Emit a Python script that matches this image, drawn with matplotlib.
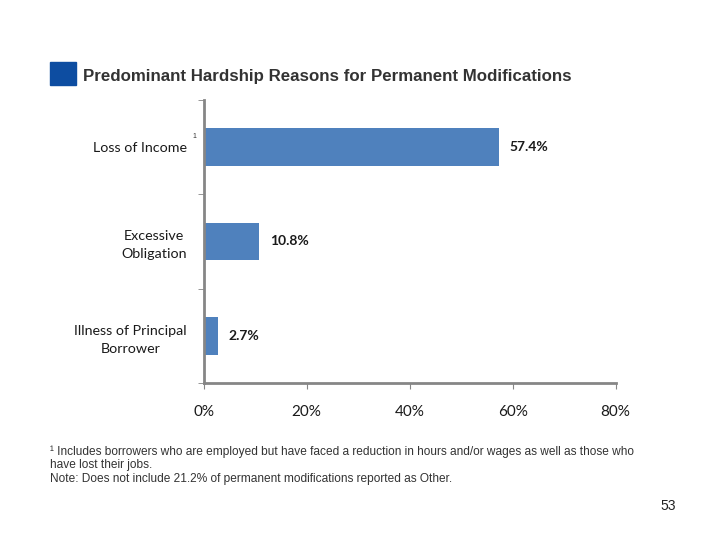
import matplotlib.pyplot as plt
from matplotlib.patches import Rectangle

categories = ["Loss of Income", "Excessive\nObligation", "Illness of Principal\nBorrower"]
values = [57.4, 10.8, 2.7]
xticks = [0, 20, 40, 60, 80]
xtick_labels = ["0%", "20%", "40%", "60%", "80%"]

bar_color = "#4F81BD"
axis_color = "#868686"
label_font = ["Lato", "DejaVu Sans"]

fig = plt.figure(figsize=(7.2, 5.4), dpi=100)
ax = fig.add_axes([0.283, 0.291, 0.572, 0.524])

pos = list(range(len(categories)))
ax.barh(pos, values, height=0.4, color=bar_color)
ax.set_ylim(len(categories) - 0.5, -0.5)
ax.set_xlim(0, 80)

for p, v in zip(pos, values):
    ax.text(v + 2, p, f"{v}%", va="center", ha="left", fontsize=10,
            fontweight="bold", family=label_font, color="#1a1a1a")

ax.set_yticks(pos)
ax.set_yticklabels(categories, fontsize=10.3, family=label_font, ha="right",
                   multialignment="center", linespacing=1.6, color="#1a1a1a")
ax.tick_params(axis="y", length=0, pad=12)
ax.set_yticks([-0.5, 0.5, 1.5, 2.5], minor=True)
ax.tick_params(axis="y", which="minor", length=4, color=axis_color)

ax.set_xticks(xticks)
ax.set_xticklabels(xtick_labels, fontsize=11, family=label_font, color="#1a1a1a")
ax.tick_params(axis="x", length=4, color=axis_color, pad=12)

for s in ["top", "right"]:
    ax.spines[s].set_visible(False)
for s in ["left", "bottom"]:
    ax.spines[s].set_color(axis_color)
    ax.spines[s].set_linewidth(2)

# superscript after "Loss of Income"
fig.text(192 / 720, 1 - 138 / 540, "1", fontsize=5, family="Liberation Sans",
         color="#333333")

# title with blue square
fig.patches.append(Rectangle((50 / 720, 1 - 85 / 540), 26 / 720, 23 / 540,
                             transform=fig.transFigure, color="#0D4DA1"))
fig.text(83 / 720, 1 - 76 / 540, "Predominant Hardship Reasons for Permanent Modifications",
         fontsize=12.2, fontweight="bold", family="Liberation Sans",
         color="#333333", va="center")

foot = ("\u00b9 Includes borrowers who are employed but have faced a reduction in hours and/or wages as well as those who\n"
        "have lost their jobs.\n"
        "Note: Does not include 21.2% of permanent modifications reported as Other.")
fig.text(50 / 720, 1 - 445 / 540, foot, fontsize=8.6, family="Liberation Sans",
         color="#333333", va="top", linespacing=1.2)

fig.text(668 / 720, 1 - 506 / 540, "53", fontsize=10, family="Liberation Sans",
         color="#222222", va="center", ha="center")

fig.savefig("out.png", dpi=100)
